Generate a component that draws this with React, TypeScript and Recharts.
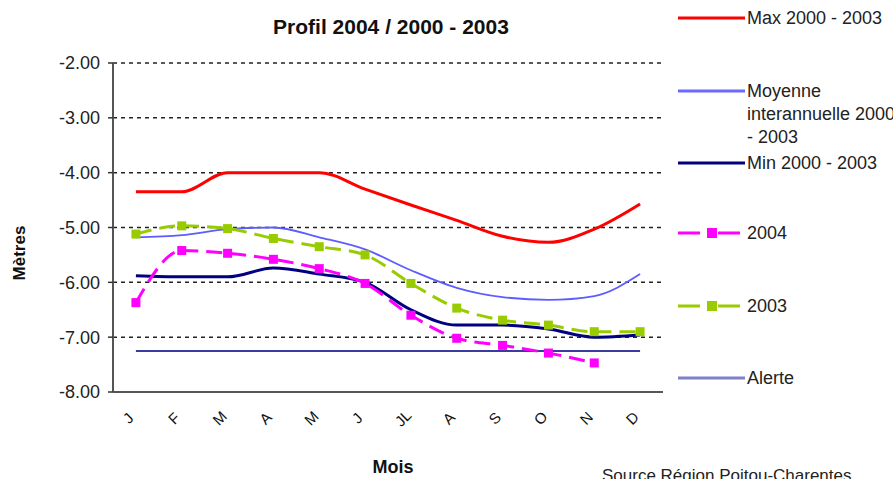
import React from 'react';
import { LineChart, Line, XAxis, YAxis, CartesianGrid } from 'recharts';

const months = ['J', 'F', 'M', 'A', 'M', 'J', 'JL', 'A', 'S', 'O', 'N', 'D'];
const max2000_2003 = [-4.35, -4.35, -4.0, -4.0, -4.0, -4.3, -4.59, -4.87, -5.16, -5.27, -5.03, -4.57];
const moyenne = [-5.18, -5.14, -5.03, -5.0, -5.18, -5.4, -5.78, -6.1, -6.27, -6.32, -6.25, -5.85];
const min2000_2003 = [-5.88, -5.9, -5.9, -5.74, -5.85, -6.0, -6.5, -6.78, -6.78, -6.85, -7.0, -6.96];
const y2004 = [-6.37, -5.42, -5.47, -5.58, -5.75, -6.02, -6.6, -7.02, -7.15, -7.29, -7.47, null];
const y2003 = [-5.12, -4.97, -5.02, -5.2, -5.35, -5.5, -6.02, -6.47, -6.69, -6.78, -6.9, -6.9];
const alerte = [-7.25, -7.25, -7.25, -7.25, -7.25, -7.25, -7.25, -7.25, -7.25, -7.25, -7.25, -7.25];
const yTicks = [-8, -7, -6, -5, -4, -3, -2];
const bandEdges = [0, 1, 2, 3, 4, 5, 6, 7, 8, 9, 10, 11, 12];

const title = 'Profil 2004  /  2000  -  2003';
const yLabel = 'Mètres';
const xLabel = 'Mois';
const source = 'Source Région Poitou-Charentes';

const data = months.map((m, i) => ({
  idx: i,
  month: m,
  max: max2000_2003[i],
  moy: moyenne[i],
  min: min2000_2003[i],
  y2004: y2004[i],
  y2003: y2003[i],
  alerte: alerte[i],
}));

const FONT = '"Liberation Sans", Arial, sans-serif';

const squareDot = (color: string) => (props: any) => {
  const { cx, cy, value, index } = props;
  if (cx == null || cy == null || value == null) return <g key={`e-${index}`} />;
  return <rect key={`d-${index}`} x={cx - 4.5} y={cy - 4.5} width={9} height={9} fill={color} />;
};

const XTick = (props: any) => {
  const { x, y, payload } = props;
  const label = months[payload.value] ?? '';
  const tx = x - 8;
  const ty = y + 26;
  return (
    <g>
      <text
        x={tx}
        y={ty}
        textAnchor="middle"
        dominantBaseline="central"
        transform={`rotate(-45 ${tx} ${ty})`}
        fontFamily={FONT}
        fontSize={15}
        fill="#111"
      >
        {label}
      </text>
    </g>
  );
};

const legendItems = [
  { label: ['Max 2000 - 2003'], color: '#ff0000', y: 18, w: 3, marker: false },
  { label: ['Moyenne', 'interannuelle 2000', '- 2003'], color: '#6a6aff', y: 91, w: 3, marker: false },
  { label: ['Min 2000 - 2003'], color: '#000080', y: 163, w: 3, marker: false },
  { label: ['2004'], color: '#ff00ff', y: 233, w: 3, marker: true },
  { label: ['2003'], color: '#99cc00', y: 306, w: 3, marker: true },
  { label: ['Alerte'], color: '#8080c8', y: 378, w: 3, marker: false },
];

export default function App() {
  return (
    <div style={{ position: 'absolute', left: 0, top: 0, width: 893, height: 479, overflow: 'hidden', background: '#fff' }}>
      <LineChart
        width={893}
        height={479}
        data={data}
        margin={{ top: 63, right: 230, bottom: 57, left: 0 }}
      >
        <XAxis
          xAxisId="edges"
          type="number"
          domain={[0, 12]}
          ticks={bandEdges}
          interval={0}
          height={0}
          tick={false}
          tickSize={5}
          tickLine={{ stroke: '#333', strokeWidth: 1.5 }}
          axisLine={false}
        />
        <XAxis
          xAxisId="cat"
          dataKey="idx"
          type="category"
          scale="band"
          interval={0}
          height={30}
          tickSize={0}
          tickMargin={0}
          tickLine={false}
          axisLine={{ stroke: '#555', strokeWidth: 2 }}
          tick={<XTick />}
        />
        <YAxis
          width={113}
          domain={[-8, -2]}
          ticks={yTicks}
          interval={0}
          tickFormatter={(v: number) => v.toFixed(2)}
          tickSize={5}
          tickMargin={8}
          tickLine={{ stroke: '#333', strokeWidth: 1.5 }}
          axisLine={{ stroke: '#555', strokeWidth: 2 }}
          tick={{ fontFamily: FONT, fontSize: 18, fill: '#222' }}
        />
        <CartesianGrid xAxisId="cat" horizontal vertical={false} stroke="#222" strokeDasharray="4 4" strokeWidth={1.5} />
        <Line xAxisId="cat" dataKey="alerte" type="linear" stroke="#3c3ca0" strokeWidth={2} dot={false} isAnimationActive={false} />
        <Line xAxisId="cat" dataKey="max" type="monotone" stroke="#ff0000" strokeWidth={3} dot={false} isAnimationActive={false} />
        <Line xAxisId="cat" dataKey="moy" type="monotone" stroke="#5c5cff" strokeWidth={1.8} dot={false} isAnimationActive={false} />
        <Line xAxisId="cat" dataKey="min" type="monotone" stroke="#000080" strokeWidth={3} dot={false} isAnimationActive={false} />
        <Line xAxisId="cat" dataKey="y2003" type="monotone" stroke="#99cc00" strokeWidth={3} strokeDasharray="16 8" dot={squareDot('#99cc00')} isAnimationActive={false} />
        <Line xAxisId="cat" dataKey="y2004" type="monotone" stroke="#ff00ff" strokeWidth={3} strokeDasharray="16 8" dot={squareDot('#ff00ff')} isAnimationActive={false} />
      </LineChart>
      <svg width={893} height={479} style={{ position: 'absolute', left: 0, top: 0, pointerEvents: 'none' }}>
        <text x={391} y={34} textAnchor="middle" fontFamily={FONT} fontSize={21} fontWeight="bold" fill="#111">
          {title}
        </text>
        <text
          x={19}
          y={253}
          textAnchor="middle"
          dominantBaseline="central"
          transform="rotate(-90 19 253)"
          fontFamily={FONT}
          fontSize={17}
          fontWeight="bold"
          fill="#111"
        >
          {yLabel}
        </text>
        <text x={393} y={473} textAnchor="middle" fontFamily={FONT} fontSize={18} fontWeight="bold" fill="#111">
          {xLabel}
        </text>
        <text x={602} y={481} fontFamily={FONT} fontSize={17} fill="#222">
          {source}
        </text>
        {legendItems.map((it, i) => (
          <g key={i}>
            {it.marker ? (
              <g>
                <line x1={678} x2={745} y1={it.y} y2={it.y} stroke={it.color} strokeWidth={it.w} strokeDasharray="22 18" />
                <rect x={707} y={it.y - 5} width={10} height={10} fill={it.color} />
              </g>
            ) : (
              <line x1={678} x2={745} y1={it.y} y2={it.y} stroke={it.color} strokeWidth={it.w} />
            )}
            {it.label.map((l, j) => (
              <text
                key={j}
                x={747}
                y={it.y + j * 23}
                dominantBaseline="central"
                fontFamily={FONT}
                fontSize={18}
                fill="#222"
              >
                {l}
              </text>
            ))}
          </g>
        ))}
      </svg>
    </div>
  );
}
